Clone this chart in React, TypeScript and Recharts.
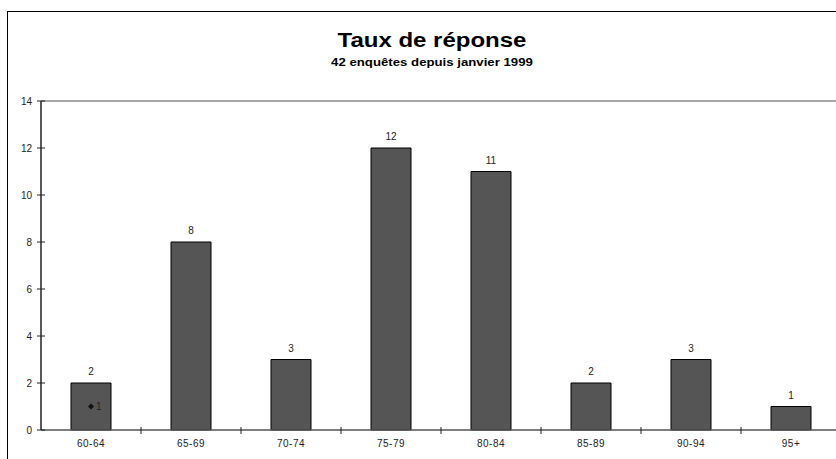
import React from 'react';
import { ComposedChart, Bar, Line, XAxis, YAxis, ReferenceLine, LabelList } from 'recharts';

const categories = ['60-64', '65-69', '70-74', '75-79', '80-84', '85-89', '90-94', '95+'];
const counts = [2, 8, 3, 12, 11, 2, 3, 1];
const markerValues: (number | null)[] = [1, null, null, null, null, null, null, null];
const yTicks = [0, 2, 4, 6, 8, 10, 12, 14];

const data = categories.map((c, i) => ({ cat: c, count: counts[i], marker: markerValues[i] }));

const CHART_W = 850;
const CHART_H = 459;
const M = { top: 101, right: 9, left: 8, bottom: 9 };
const Y_W = 33;
const PLOT_W = CHART_W - M.left - M.right - Y_W;
const BAND = PLOT_W / categories.length;
const FONT = '"Liberation Sans", Arial, sans-serif';

const YTick = (props: any) => {
  const { x, y, payload } = props;
  return (
    <g>
      <line x1={x - 4} x2={x + 4} y1={y} y2={y} stroke="#222" strokeWidth={1} />
      <text x={x - 9} y={y} dy={3.5} textAnchor="end" fontSize={10} fontFamily={FONT} fill="#222">
        {payload.value}
      </text>
    </g>
  );
};

const XTick = (props: any) => {
  const { x, y, payload } = props;
  return (
    <g>
      <line x1={x + BAND / 2} x2={x + BAND / 2} y1={y - 3} y2={y + 4} stroke="#222" strokeWidth={1} />
      <text
        x={x}
        y={y + 17}
        textAnchor="middle"
        fontSize={10}
        fontFamily={FONT}
        fill="#222"
        letterSpacing={0.5}
      >
        {payload.value}
      </text>
    </g>
  );
};

const Diamond = (props: any) => {
  const { cx, cy, value } = props;
  if (value == null || cx == null || cy == null || isNaN(cy)) return <g key={props.index} />;
  return (
    <path
      key={props.index}
      d={`M${cx - 3},${cy} L${cx},${cy - 3} L${cx + 3},${cy} L${cx},${cy + 3} Z`}
      fill="#111"
    />
  );
};

export default function App() {
  return (
    <div style={{ position: 'absolute', left: 0, top: 0, width: 836, height: 459, overflow: 'hidden', background: '#fff' }}>
      <div
        style={{
          position: 'absolute',
          left: 7,
          top: 11,
          width: 900,
          height: 500,
          border: '1.5px solid #000',
          boxSizing: 'border-box',
        }}
      />
      <div
        style={{
          position: 'absolute',
          left: 0,
          top: 29,
          width: 864,
          textAlign: 'center',
          fontFamily: FONT,
          fontWeight: 'bold',
          fontSize: 20,
          lineHeight: '22px',
          color: '#000',
          transform: 'scaleX(1.2)',
          transformOrigin: '432px 0',
        }}
      >
        Taux de réponse
      </div>
      <div
        style={{
          position: 'absolute',
          left: 0,
          top: 55,
          width: 864,
          textAlign: 'center',
          fontFamily: FONT,
          fontWeight: 'bold',
          fontSize: 11,
          lineHeight: '14px',
          color: '#000',
          transform: 'scaleX(1.2)',
          transformOrigin: '432px 0',
        }}
      >
        42 enquêtes depuis janvier 1999
      </div>
      <div style={{ position: 'absolute', left: 0, top: 0 }}>
        <ComposedChart width={CHART_W} height={CHART_H} data={data} margin={M}>
          <ReferenceLine y={14} stroke="#888" strokeWidth={1.5} />
          <XAxis
            dataKey="cat"
            axisLine={{ stroke: '#555', strokeWidth: 1.5 }}
            tickLine={false}
            tickSize={0}
            tickMargin={0}
            height={20}
            tick={<XTick />}
            interval={0}
          />
          <YAxis
            domain={[0, 14]}
            ticks={yTicks}
            width={Y_W}
            axisLine={{ stroke: '#222', strokeWidth: 1.5 }}
            tickLine={false}
            tickSize={0}
            tickMargin={0}
            tick={<YTick />}
            interval={0}
          />
          <Bar dataKey="count" fill="#555555" stroke="#000" strokeWidth={1} barSize={40} isAnimationActive={false}>
            <LabelList dataKey="count" position="top" offset={8} fontSize={10} fontFamily={FONT} fill="#222" />
          </Bar>
          <Line
            dataKey="marker"
            stroke="none"
            dot={<Diamond />}
            activeDot={false}
            isAnimationActive={false}
            connectNulls={false}
          >
            <LabelList
              dataKey="marker"
              position="right"
              offset={5}
              fontSize={10}
              fontFamily={FONT}
              fill="#222"
              formatter={(v: any) => (v == null ? '' : v)}
            />
          </Line>
        </ComposedChart>
      </div>
    </div>
  );
}
